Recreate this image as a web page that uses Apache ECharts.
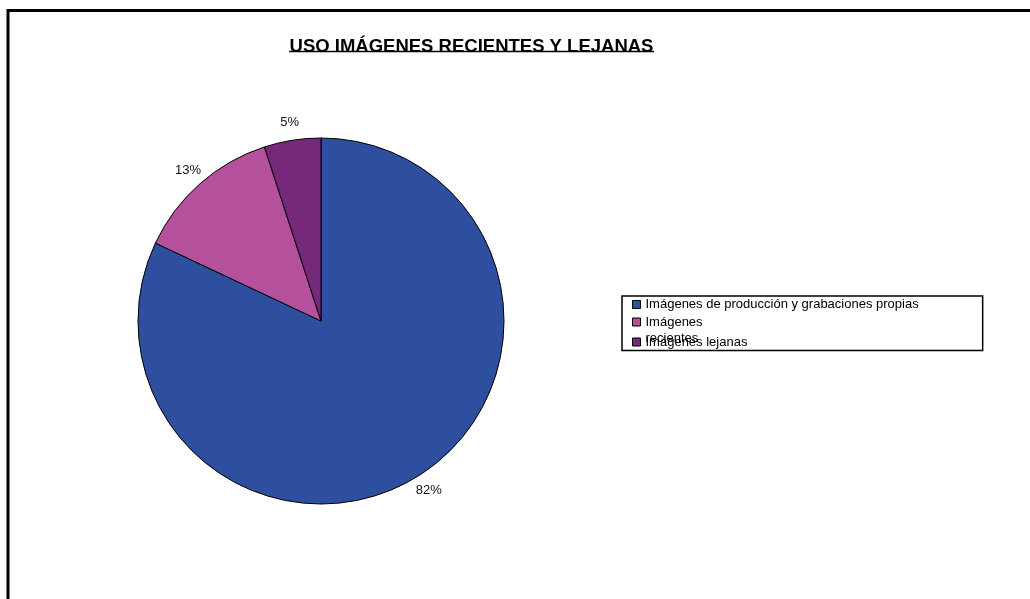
<!DOCTYPE html>
<html>
<head>
<meta charset="utf-8">
<script src="https://cdn.jsdelivr.net/npm/echarts@6/dist/echarts.min.js"></script>
<style>
  html, body { margin: 0; padding: 0; background: #fff; }
  #chart { width: 1030px; height: 599px; }
</style>
</head>
<body>
<div id="chart"></div>
<script>
const categories = [
  "Imágenes de producción y grabaciones propias",
  "Imágenes recientes",
  "Imágenes lejanas",
];
const shares = [82, 13, 5];
const titleText = "USO IMÁGENES RECIENTES Y LEJANAS";

const sliceColors = ["#2E4FA0", "#B5509C", "#76297A"];
const FONT = "Liberation Sans, Arial, sans-serif";

const chart = echarts.init(document.getElementById("chart"));

const pieData = categories.map((name, i) => ({
  name,
  value: shares[i],
  itemStyle: { color: sliceColors[i] },
}));

// the second legend entry wraps: its first word stays on its row and the
// rest spills over the third row (as in the original spreadsheet chart)
const wrapped = categories[1].split(" ");

const option = {
  animation: false,
  backgroundColor: "#fff",
  title: {
    text: titleText,
    left: 466.5,
    top: 32,
    textAlign: "center",
    textStyle: {
      fontFamily: FONT,
      fontSize: 18.5,
      fontWeight: "bold",
      color: "#000",
    },
  },
  graphic: [
    {
      type: "rect",
      silent: true,
      shape: { x: 8, y: 10.5, width: 1200, height: 800 },
      style: { fill: "none", stroke: "#000", lineWidth: 3 },
    },
    {
      type: "line",
      silent: true,
      shape: { x1: 289, y1: 51.5, x2: 654, y2: 51.5 },
      style: { stroke: "#000", lineWidth: 1.5 },
    },
  ],
  legend: {
    orient: "vertical",
    left: 622,
    top: 296,
    padding: [1, 64, 1, 10],
    itemGap: 2.5,
    itemWidth: 8,
    itemHeight: 8,
    icon: "rect",
    borderColor: "#000",
    borderWidth: 1.5,
    itemStyle: { borderColor: "#000", borderWidth: 1 },
    formatter: (name) => {
      if (name === categories[1]) return wrapped[0];
      if (name === categories[2]) return "{r|" + wrapped[1] + "}{c|" + name + "}";
      return name;
    },
    textStyle: {
      fontFamily: FONT,
      fontSize: 13,
      lineHeight: 15,
      color: "#000",
      rich: {
        r: {
          fontFamily: FONT,
          fontSize: 13,
          width: 0,
          lineHeight: 15,
          padding: [-7, 0, 0, 0],
          color: "#000",
        },
        c: { fontFamily: FONT, fontSize: 13, lineHeight: 15, color: "#000" },
      },
    },
    data: categories,
  },
  series: [
    {
      name: "uso",
      type: "pie",
      center: [321, 321],
      radius: [0, 183],
      startAngle: 90,
      clockwise: true,
      silent: true,
      avoidLabelOverlap: false,
      itemStyle: { borderColor: "#000", borderWidth: 1 },
      label: { show: false },
      labelLine: { show: false },
      emphasis: { disabled: true },
      data: pieData,
    },
    {
      // transparent ring used only to place the percentage labels
      name: "etiquetas",
      type: "pie",
      center: [321, 321],
      radius: [183, 213],
      startAngle: 90,
      clockwise: true,
      silent: true,
      avoidLabelOverlap: false,
      itemStyle: { color: "rgba(0,0,0,0)", borderWidth: 0 },
      label: {
        show: true,
        position: "inside",
        formatter: "{c}%",
        fontFamily: FONT,
        fontSize: 13,
        color: "#111",
      },
      labelLine: { show: false },
      emphasis: { disabled: true },
      data: categories.map((name, i) => ({ name, value: shares[i] })),
    },
  ],
};

chart.setOption(option);
</script>
</body>
</html>
